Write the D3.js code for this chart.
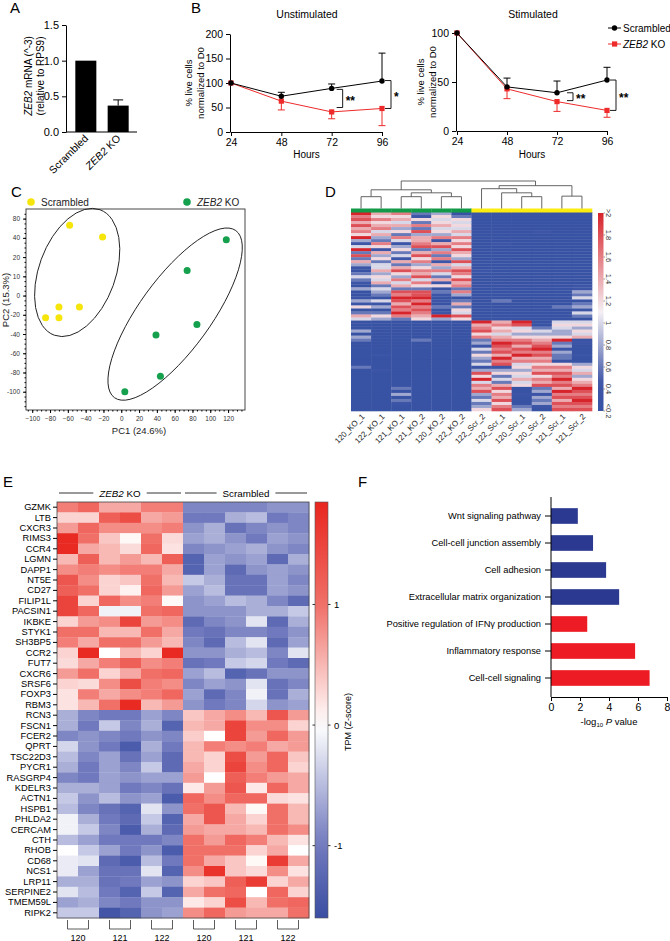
<!DOCTYPE html>
<html>
<head>
<meta charset="utf-8">
<script src="https://cdn.jsdelivr.net/npm/d3@7"></script>
<style>
  body { margin: 0; background: #fff; }
  svg { display: block; font-family: "Liberation Sans", Arial, sans-serif; }
</style>
</head>
<body>
<svg id="fig" width="670" height="941"></svg>
<script>
// ---------- data ----------

// A: ZEB2 mRNA
const qpcrGroups = ['Scrambled', 'ZEB2 KO']
const qpcrMean = [1.0, 0.37]
const qpcrErr = [0, 0.08]
const qpcrTicks = [0, 0.5, 1.0, 1.5]

// B: live cells over time
const hours = [24, 48, 72, 96]
const unstimScr = [100, 73, 89, 104]
const unstimScrErr = [0, 8, 9, 57]
const unstimKo = [100, 63, 41, 48]
const unstimKoErr = [0, 18, 14, 35]
const stimScr = [100, 45, 39, 52]
const stimScrErr = [0, 9, 12, 13]
const stimKo = [100, 43, 30, 21]
const stimKoErr = [0, 10, 10, 7]
// [hour, top value, bottom value, label]
const unstimSig = [[72, 87, 50, '**'], [96, 105, 48, '*']]
const stimSig = [[72, 39, 31, '**'], [96, 52, 21, '**']]

// C: PCA
const pcScrX = [-58, -21, -70, -47, -85, -70]
const pcScrY = [73, 61, -12, -12, -23, -23]
const pcKoX = [118, 74, 85, 39, 44, 4]
const pcKoY = [58, 26, -30, -41, -84, -100]
const pcXTicks = [-100, -80, -60, -40, -20, 0, 20, 40, 60, 80, 100, 120]
const pcYTicks = [80, 60, 40, 20, 0, -20, -40, -60, -80, -100]
const pcYTickLabels = ['80', '40', '20', '10', '0', '-20', '-40', '-60', '-80', '-100']
// group ellipses: centre, semi axes (PC1 units), tilt in degrees
const pcEllipseCx = [-49.5, 60.5]
const pcEllipseCy = [24, -19.3]
const pcEllipseMajor = [75, 116]
const pcEllipseMinor = [43, 40]
const pcEllipseAngle = [70, 54]

// D: clustered heatmap, one string per sample, digit d -> 0.2 + 0.2*d
const dSamples = ['120_KO_1', '122_KO_1', '121_KO_1', '121_KO_2', '120_KO_2', '122_KO_2',
  '122_Scr_2', '122_Scr_1', '120_Scr_1', '120_Scr_2', '121_Scr_1', '121_Scr_2']
const dGroups = ['KO', 'KO', 'KO', 'KO', 'KO', 'KO', 'Scr', 'Scr', 'Scr', 'Scr', 'Scr', 'Scr']
const dLevels = [
  '978686759314928263102421030013150264' + '000303200000000200000000000000',
  '657567463275163524463546243204130253' + '000000000001000010000000000000',
  '756463527413524162685374628798687972' + '000000000000000000000020302100',
  '215272836678268573576847528897978765' + '000000200000000000000000000000',
  '354564537168372716374261502101020193' + '000000000000000000000000000000',
  '025454647575865384687586727302625485' + '000000000000000000000000000000',
  '000000000000000000010000000000000000' + '967857231425324138594768324235',
  '000000000010000000000000000002000000' + '675646798786978135242685768578',
  '000000000000000000000000000000000000' + '984535786879674535464500100023',
  '000000100000000000000000000000000000' + '002435678978675768576823132310',
  '000000000000000000000000000000020000' + '454335923132205768797869786878',
  '000000000000000000000000113240231420' + '453546010001003546356798789878'
]
const dTicks = [0.2, 0.4, 0.6, 0.8, 1, 1.2, 1.4, 1.6, 1.8, 2]
const dTickLabels = ['<0.2', '0.4', '0.6', '0.8', '1', '1.2', '1.4', '1.6', '1.8', '>2']
// dendrogram merges [child a, child b, height]; leaves are 0-11
const dMerges = [[0, 1, 0.43], [2, 3, 0.43], [4, 5, 0.43], [13, 14, 0.57], [12, 15, 0.68],
  [8, 9, 0.43], [7, 17, 0.57], [6, 18, 0.72], [10, 11, 0.45], [19, 20, 0.83], [16, 21, 1]]

// E: TPM z-scores, 6 ZEB2 KO columns then 6 Scrambled columns
const eGenes = ['GZMK', 'LTB', 'CXCR3', 'RIMS3', 'CCR4', 'LGMN', 'DAPP1', 'NT5E', 'CD27', 'FILIP1L',
  'PACSIN1', 'IKBKE', 'STYK1', 'SH3BP5', 'CCR2', 'FUT7', 'CXCR6', 'SRSF6', 'FOXP3', 'RBM3',
  'RCN3', 'FSCN1', 'FCER2', 'QPRT', 'TSC22D3', 'PYCR1', 'RASGRP4', 'KDELR3', 'ACTN1', 'HSPB1',
  'PHLDA2', 'CERCAM', 'CTH', 'RHOB', 'CD68', 'NCS1', 'LRP11', 'SERPINE2', 'TMEM59L', 'RIPK2']
const eZ = [
  [0.9, 1.1, 0.6, 0.6, 0.9, 0.9, -0.9, -0.9, -0.9, -0.9, -0.8, -0.8],
  [0.3, 0.3, 1.2, 1.4, 0.6, 0.7, -1.0, -1.0, -0.6, -0.5, -1.0, -0.9],
  [0.7, 1.1, 0.8, 0.8, 0.8, 0.9, -0.8, -0.6, -1.1, -0.9, -0.8, -0.9],
  [1.8, 1.0, 0.4, 0.05, 1.0, 0.25, -0.7, -0.6, -0.8, -1.0, -0.7, -0.8],
  [1.8, 0.6, 0.5, 0.25, 1.1, 0.2, -0.9, -0.8, -0.7, -0.6, -0.8, -0.9],
  [0.5, 1.2, 0.5, 0.7, 0.5, 1.2, -1.3, -0.7, -0.8, -0.7, -1.2, -0.6],
  [0.8, 0.9, 0.8, 0.9, 0.9, 0.6, -1.3, -0.7, -1.2, -0.8, -0.7, -0.8],
  [1.3, 0.8, 0.3, 0.4, 1.0, 0.5, -0.4, -0.6, -1.1, -1.1, -0.7, -0.9],
  [1.2, 1.0, 0.3, 0.1, 1.1, 0.7, -0.7, -0.5, -1.1, -1.1, -0.7, -0.8],
  [1.5, 0.3, 1.1, 0.8, 0.9, 0.05, -0.8, -0.7, -0.5, -0.6, -0.9, -1.2],
  [1.5, 1.1, -0.1, -0.1, 1.0, 1.1, -0.8, -0.8, -0.8, -0.6, -0.6, -0.4],
  [0.3, 0.7, 0.8, 1.5, 0.7, 0.8, -1.2, -0.9, -0.8, -0.2, -1.2, -0.6],
  [1.0, 1.0, 0.5, 0.5, 1.0, 0.6, -1.0, -1.1, -0.9, -0.9, -1.0, -0.8],
  [0.9, 0.6, 1.0, 1.0, 0.7, 0.5, -0.9, -1.2, -0.5, -0.2, -1.2, -0.7],
  [0.3, 1.8, 0.0, 0.5, 0.3, 1.8, -0.8, -0.8, -0.6, -0.5, -0.9, -0.2],
  [0.25, 0.6, 0.9, 1.2, 0.8, 0.9, -1.1, -1.0, -0.4, -0.3, -1.0, -1.2],
  [0.7, 1.0, 0.3, 0.6, 1.0, 1.1, -0.7, -0.5, -1.3, -1.1, -0.8, -0.8],
  [0.3, 0.25, 0.8, 1.4, 0.9, 0.8, -0.9, -0.7, -0.8, -0.2, -1.1, -0.9],
  [0.2, 0.9, 0.6, 0.8, 0.9, 1.1, -0.7, -1.2, -0.9, -0.1, -1.1, -0.6],
  [0.2, 0.5, 1.0, 1.8, 0.5, 0.7, -0.8, -1.0, -0.9, -0.3, -0.8, -0.7],
  [-0.6, -0.9, -1.0, -1.0, -0.7, -0.9, 0.4, 0.6, 0.8, 0.5, 1.3, 0.7],
  [-0.6, -1.0, -0.4, -0.9, -0.6, -1.3, 0.5, 0.6, 1.5, 0.8, 0.8, 0.3],
  [-0.9, -0.8, -0.9, -1.0, -0.8, -0.9, 0.35, 0.0, 1.5, 0.7, 1.1, 0.7],
  [-0.3, -0.8, -1.0, -1.4, -0.6, -1.0, 0.5, 0.9, 0.8, 0.9, 0.6, 0.7],
  [-0.5, -0.9, -0.7, -1.1, -0.7, -1.2, 0.5, 0.3, 1.4, 0.7, 1.1, 0.4],
  [-0.6, -1.0, -0.7, -0.9, -0.4, -1.2, 0.6, 0.3, 1.5, 0.8, 1.1, 0.3],
  [-0.9, -1.0, -0.7, -0.8, -0.7, -0.7, 0.7, 0.0, 1.2, 0.9, 0.7, 0.6],
  [-0.6, -0.6, -0.7, -1.0, -0.9, -1.1, 0.15, 0.7, 1.3, 0.15, 1.1, 0.6],
  [-0.4, -0.8, -0.5, -0.8, -0.7, -1.4, 1.1, 0.8, 1.1, 1.1, 0.25, 0.2],
  [-0.5, -0.9, -1.1, -1.3, -0.2, -0.8, 1.0, 1.3, 0.5, 0.05, 1.0, 0.5],
  [-0.1, -0.6, -1.0, -1.2, -0.4, -1.3, 0.6, 1.3, 0.6, 0.3, 1.0, 0.5],
  [-0.1, -0.4, -0.9, -1.4, -0.6, -1.2, 0.7, 0.6, 0.6, 0.5, 1.0, 0.8],
  [-0.5, -0.7, -1.0, -1.0, -1.0, -0.9, 1.0, 0.7, 1.1, 0.9, 0.5, 0.2],
  [0.0, -0.4, -0.7, -1.0, -0.8, -1.4, 1.0, 1.0, 1.0, 0.3, 0.6, 0.0],
  [-0.15, -0.2, -1.2, -1.4, -0.5, -1.0, 1.0, 0.6, 0.4, 0.05, 1.6, 0.6],
  [-0.15, -0.7, -1.1, -1.1, -0.2, -1.3, 0.8, 1.7, 0.4, 0.25, 0.8, 0.2],
  [-0.6, -0.6, -1.1, -1.0, -0.7, -0.8, 0.3, 0.4, 1.2, 1.6, 0.3, 0.6],
  [-0.2, -0.5, -1.0, -1.3, -0.4, -1.3, 0.6, 1.0, 1.1, 0.0, 1.1, 0.3],
  [-0.7, -0.6, -0.9, -1.0, -0.8, -0.8, 0.15, 0.3, 1.4, 0.5, 1.0, 1.1],
  [-0.4, -0.4, -1.5, -1.3, -0.8, -0.7, 0.8, 1.1, 0.7, 0.6, 0.6, 1.0]
]
const eDonors = ['120', '121', '122', '120', '121', '122']
const eTicks = [1, 0, -1]

// F: GO terms
const goTerms = ['Wnt signaling pathway', 'Cell-cell junction assembly', 'Cell adhesion',
  'Extracellular matrix organization', 'Positive regulation of IFN\u03b3 production',
  'Inflammatory response', 'Cell-cell signaling']
const goScore = [1.85, 2.9, 3.8, 4.7, 2.5, 5.8, 6.8]
const goDirection = ['down', 'down', 'down', 'down', 'up', 'up', 'up']
const goTicks = [0, 2, 4, 6, 8]

// ---------- helpers ----------
const svg = d3.select('#fig')
const FONT = '"Liberation Sans", Arial, sans-serif'
const RED = '#ee2a2a'

function tidyAxis(g, size) {
  g.attr('font-family', FONT).attr('font-size', size)
  g.selectAll('.domain, .tick line').attr('stroke', '#000')
  g.selectAll('.tick text').attr('fill', '#000')
}

// gene symbol in italics
function geneText(sel, text) {
  const m = text.match(/^(ZEB2)(.*)$/)
  if (m) {
    sel.append('tspan').attr('font-style', 'italic').text(m[1])
    sel.append('tspan').text(m[2])
  } else sel.text(text)
  return sel
}

// panel letters
const letters = [['A', 10, 13], ['B', 191, 13], ['C', 11, 197], ['D', 325, 197], ['E', 3, 487], ['F', 358, 487]]
svg.selectAll('text.letter').data(letters).join('text')
  .attr('class', 'letter')
  .attr('x', d => d[1]).attr('y', d => d[2])
  .attr('font-size', 15).text(d => d[0])

// ---------- A ----------
{
  const g = svg.append('g')
  const y = d3.scaleLinear().domain([0, 1.5]).range([132, 25])
  const x = d3.scaleBand().domain(qpcrGroups).range([69.5, 134.5]).paddingInner(0.35).paddingOuter(0.18)

  g.append('g').attr('transform', 'translate(66,0)')
    .call(d3.axisLeft(y).tickValues(qpcrTicks).tickFormat(d3.format('.1f')).tickSize(4).tickSizeOuter(0))
    .call(tidyAxis, 11)
  g.append('line').attr('x1', 66).attr('x2', 137).attr('y1', y(0)).attr('y2', y(0)).attr('stroke', '#000')

  g.selectAll('rect').data(qpcrGroups).join('rect')
    .attr('x', d => x(d)).attr('width', x.bandwidth())
    .attr('y', (d, i) => y(qpcrMean[i]))
    .attr('height', (d, i) => y(0) - y(qpcrMean[i]))
    .attr('fill', '#000')

  qpcrGroups.forEach((d, i) => {
    if (!qpcrErr[i]) return
    const cx = x(d) + x.bandwidth() / 2
    const top = y(qpcrMean[i] + qpcrErr[i])
    g.append('line').attr('x1', cx).attr('x2', cx).attr('y1', y(qpcrMean[i])).attr('y2', top).attr('stroke', '#000')
    g.append('line').attr('x1', cx - 5).attr('x2', cx + 5).attr('y1', top).attr('y2', top).attr('stroke', '#000')
  })

  qpcrGroups.forEach(d => {
    const t = g.append('text')
      .attr('transform', `translate(${x(d) + x.bandwidth() / 2 + 3},139) rotate(-45)`)
      .attr('text-anchor', 'end').attr('font-size', 10.5)
    geneText(t, d)
  })

  const lab1 = g.append('text').attr('transform', 'translate(32,76) rotate(-90)')
    .attr('text-anchor', 'middle').attr('font-size', 10)
  lab1.append('tspan').attr('font-style', 'italic').text('ZEB2')
  lab1.append('tspan').text(' mRNA (^-3)')
  g.append('text').attr('transform', 'translate(43.5,76) rotate(-90)')
    .attr('text-anchor', 'middle').attr('font-size', 10).text('(relative to RPS9)')
}

// ---------- B ----------
function survival(cfg) {
  const g = svg.append('g')
  const x = d3.scaleLinear().domain([24, 96]).range([cfg.left, cfg.right])
  const y = d3.scaleLinear().domain([0, cfg.yMax]).range([cfg.bottom, cfg.top])

  g.append('g').attr('transform', `translate(${cfg.left - 1},0)`)
    .call(d3.axisLeft(y).tickValues(cfg.yTicks).tickSize(4).tickSizeOuter(0))
    .call(tidyAxis, 10.5)
  g.append('g').attr('transform', `translate(0,${cfg.bottom})`)
    .call(d3.axisBottom(x).tickValues(hours).tickSize(4).tickSizeOuter(0))
    .call(tidyAxis, 10.5)

  g.append('text').attr('x', (cfg.left + cfg.right) / 2).attr('y', 158)
    .attr('text-anchor', 'middle').attr('font-size', 10).text('Hours')
  g.append('text').attr('x', cfg.titleX).attr('y', 18)
    .attr('text-anchor', 'middle').attr('font-size', 10.5).text(cfg.title)
  const mid = (cfg.top + cfg.bottom) / 2
  g.append('text').attr('transform', `translate(${cfg.labelX},${mid}) rotate(-90)`)
    .attr('text-anchor', 'middle').attr('font-size', 9.5).text('% live cells')
  g.append('text').attr('transform', `translate(${cfg.labelX + 12},${mid}) rotate(-90)`)
    .attr('text-anchor', 'middle').attr('font-size', 9.5).text('normalized to D0')

  const series = (vals, errs, color, dir, square) => {
    const pts = vals.map((v, i) => ({ h: hours[i], v, e: errs[i] }))
    g.append('path').datum(pts)
      .attr('d', d3.line().x(d => x(d.h)).y(d => y(d.v)))
      .attr('fill', 'none').attr('stroke', color).attr('stroke-width', 1)
    pts.filter(d => d.e > 0).forEach(d => {
      const end = y(d.v + dir * d.e)
      g.append('line').attr('x1', x(d.h)).attr('x2', x(d.h)).attr('y1', y(d.v)).attr('y2', end).attr('stroke', color)
      g.append('line').attr('x1', x(d.h) - 3.5).attr('x2', x(d.h) + 3.5).attr('y1', end).attr('y2', end).attr('stroke', color)
    })
    if (square) {
      g.selectAll(null).data(pts).join('rect')
        .attr('x', d => x(d.h) - 2.6).attr('y', d => y(d.v) - 2.6)
        .attr('width', 5.2).attr('height', 5.2).attr('fill', color)
    } else {
      g.selectAll(null).data(pts).join('circle')
        .attr('cx', d => x(d.h)).attr('cy', d => y(d.v)).attr('r', 2.7).attr('fill', color)
    }
  }
  series(cfg.ko, cfg.koErr, RED, -1, true)
  series(cfg.scr, cfg.scrErr, '#000', 1, false)

  cfg.sig.forEach(([h, top, bottom, label], i) => {
    const x0 = x(h) + cfg.sigGap[i]
    g.append('path')
      .attr('d', `M${x0},${y(top)}H${x0 + 6}V${y(bottom)}H${x0}`)
      .attr('fill', 'none').attr('stroke', '#000').attr('stroke-width', 0.9)
    g.append('text').attr('x', x0 + 9).attr('y', (y(top) + y(bottom)) / 2 + 6.5)
      .attr('font-size', 12).attr('font-weight', 'bold').text(label)
  })
  return g
}

survival({
  left: 231, right: 382, top: 34, bottom: 132, yMax: 200, yTicks: [0, 50, 100, 150, 200],
  title: 'Unstimulated', titleX: 307, labelX: 192, sigGap: [5, 3],
  scr: unstimScr, scrErr: unstimScrErr, ko: unstimKo, koErr: unstimKoErr, sig: unstimSig
})
const stimG = survival({
  left: 457, right: 607, top: 33, bottom: 131, yMax: 100, yTicks: [0, 50, 100],
  title: 'Stimulated', titleX: 533, labelX: 424, sigGap: [10, 3],
  scr: stimScr, scrErr: stimScrErr, ko: stimKo, koErr: stimKoErr, sig: stimSig
})

// legend
{
  const items = [['Scrambled', '#000', false], ['ZEB2 KO', RED, true]]
  items.forEach(([name, color, square], i) => {
    const ly = 28 + i * 16
    stimG.append('line').attr('x1', 608).attr('x2', 621).attr('y1', ly).attr('y2', ly).attr('stroke', color)
    if (square) stimG.append('rect').attr('x', 612).attr('y', ly - 2.6).attr('width', 5.2).attr('height', 5.2).attr('fill', color)
    else stimG.append('circle').attr('cx', 614.5).attr('cy', ly).attr('r', 2.7).attr('fill', color)
    geneText(stimG.append('text').attr('x', 623).attr('y', ly + 3.5).attr('font-size', 10), name)
  })
}

// ---------- C ----------
{
  const g = svg.append('g')
  const x = d3.scaleLinear().domain([-107, 139]).range([26, 245])
  const y = d3.scaleLinear().domain([-119, 90]).range([410, 209])
  const k = x(1) - x(0)

  g.append('rect').attr('x', 26).attr('y', 209).attr('width', 219).attr('height', 201)
    .attr('fill', 'none').attr('stroke', '#333').attr('stroke-width', 0.9)

  g.append('g').attr('transform', 'translate(26,0)')
    .call(d3.axisLeft(y).tickValues(d3.range(-115, 90, 5)).tickSize(1.5).tickFormat(''))
    .call(g => g.select('.domain').remove())
    .call(tidyAxis, 6.5)
  g.append('g').attr('transform', 'translate(26,0)')
    .call(d3.axisLeft(y).tickValues(pcYTicks).tickSize(3).tickFormat((d, i) => pcYTickLabels[i]))
    .call(g => g.select('.domain').remove())
    .call(tidyAxis, 6.5)
  g.append('g').attr('transform', 'translate(0,410)')
    .call(d3.axisBottom(x).tickValues(d3.range(-105, 140, 5)).tickSize(1.5).tickFormat(''))
    .call(g => g.select('.domain').remove())
    .call(tidyAxis, 6.5)
  g.append('g').attr('transform', 'translate(0,410)')
    .call(d3.axisBottom(x).tickValues(pcXTicks).tickSize(3))
    .call(g => g.select('.domain').remove())
    .call(tidyAxis, 6.5)
  g.selectAll('.tick text').attr('fill', '#333')

  pcEllipseCx.forEach((c, i) => {
    g.append('ellipse')
      .attr('cx', x(c)).attr('cy', y(pcEllipseCy[i]))
      .attr('rx', pcEllipseMajor[i] * k).attr('ry', pcEllipseMinor[i] * k)
      .attr('transform', `rotate(${-pcEllipseAngle[i]},${x(c)},${y(pcEllipseCy[i])})`)
      .attr('fill', 'none').attr('stroke', '#222').attr('stroke-width', 0.9)
  })

  const yellow = '#f5e50a', green = '#14a04c'
  g.selectAll(null).data(pcScrX).join('circle')
    .attr('cx', d => x(d)).attr('cy', (d, i) => y(pcScrY[i])).attr('r', 3.5).attr('fill', yellow)
  g.selectAll(null).data(pcKoX).join('circle')
    .attr('cx', d => x(d)).attr('cy', (d, i) => y(pcKoY[i])).attr('r', 3.5).attr('fill', green)

  g.append('circle').attr('cx', 31).attr('cy', 202).attr('r', 3.8).attr('fill', yellow)
  g.append('text').attr('x', 41).attr('y', 206).attr('font-size', 10).attr('fill', '#222').text('Scrambled')
  g.append('circle').attr('cx', 187).attr('cy', 202).attr('r', 3.8).attr('fill', green)
  geneText(g.append('text').attr('x', 197).attr('y', 206).attr('font-size', 10).attr('fill', '#222'), 'ZEB2 KO')

  g.append('text').attr('x', 139).attr('y', 434).attr('text-anchor', 'middle')
    .attr('font-size', 9.5).attr('fill', '#222').text('PC1 (24.6%)')
  g.append('text').attr('transform', 'translate(9,300) rotate(-90)').attr('text-anchor', 'middle')
    .attr('font-size', 9.5).attr('fill', '#222').text('PC2 (15.3%)')
}

// ---------- D ----------
{
  const g = svg.append('g')
  const nRows = 66
  const x = d3.scaleBand().domain(d3.range(dSamples.length)).range([351, 592])
  const y = d3.scaleBand().domain(d3.range(nRows)).range([212, 411])
  const color = d3.scaleLinear().domain([0.2, 0.45, 1.1, 2])
    .range(['#3953a4', '#3d55a6', '#f4eff4', '#d7232a']).clamp(true)

  const cells = []
  dLevels.forEach((s, c) => {
    for (let r = 0; r < nRows; r++) cells.push({ c, r, v: 0.2 + 0.2 * (+s[r] || 0) })
  })
  g.selectAll(null).data(cells).join('rect')
    .attr('x', d => x(d.c)).attr('y', d => y(d.r))
    .attr('width', x.bandwidth() + 0.3).attr('height', y.bandwidth() + 0.3)
    .attr('fill', d => color(d.v))

  // group strip
  g.selectAll(null).data(dGroups).join('rect')
    .attr('x', (d, i) => x(i)).attr('y', 208.5).attr('width', x.bandwidth() + 0.3).attr('height', 4)
    .attr('fill', d => d === 'KO' ? '#139a48' : '#fbec10')

  // dendrogram
  const hy = d3.scaleLinear().domain([0, 1]).range([208.5, 181])
  const nodes = dSamples.map((d, i) => ({ x: x(i) + x.bandwidth() / 2, h: 0 }))
  dMerges.forEach(([a, b, h]) => nodes.push({ x: (nodes[a].x + nodes[b].x) / 2, h, a, b }))
  nodes.filter(n => n.a !== undefined).forEach(n => {
    const A = nodes[n.a], B = nodes[n.b]
    g.append('path')
      .attr('d', `M${A.x},${hy(A.h)}V${hy(n.h)}H${B.x}V${hy(B.h)}`)
      .attr('fill', 'none').attr('stroke', '#555').attr('stroke-width', 0.9)
  })

  // sample labels
  g.selectAll(null).data(dSamples).join('text')
    .attr('transform', (d, i) => `translate(${x(i) + x.bandwidth() / 2 + 4},417) rotate(-45)`)
    .attr('text-anchor', 'end').attr('font-size', 8).attr('fill', '#222').text(d => d)

  // colour bar
  const cb = d3.scaleLinear().domain([0.2, 2]).range([411, 213])
  const grad = svg.append('defs').append('linearGradient').attr('id', 'dgrad')
    .attr('x1', 0).attr('x2', 0).attr('y1', 1).attr('y2', 0)
  d3.range(0, 1.0001, 0.05).forEach(t => {
    grad.append('stop').attr('offset', t).attr('stop-color', color(0.2 + 1.8 * t))
  })
  g.append('rect').attr('x', 598).attr('y', 213).attr('width', 5.5).attr('height', 198).attr('fill', 'url(#dgrad)')
  dTicks.forEach((t, i) => {
    g.append('line').attr('x1', 603.5).attr('x2', 605).attr('y1', cb(t)).attr('y2', cb(t)).attr('stroke', '#555').attr('stroke-width', 0.6)
    g.append('text').attr('transform', `translate(605.5,${cb(t)}) rotate(90)`)
      .attr('text-anchor', 'middle').attr('font-size', 7.5).attr('fill', '#333').text(dTickLabels[i])
  })
}

// ---------- E ----------
{
  const g = svg.append('g')
  const x = d3.scaleBand().domain(d3.range(12)).range([57, 309])
  const y = d3.scaleBand().domain(eGenes).range([502, 918])
  const color = d3.scaleLinear().domain([-1.6, -1, 0, 1, 1.85])
    .range(['#3a4ea3', '#7079bd', '#ffffff', '#f07068', '#e8261e']).clamp(true)

  const cells = []
  eZ.forEach((row, r) => row.forEach((v, c) => cells.push({ gene: eGenes[r], c, v })))
  g.selectAll(null).data(cells).join('rect')
    .attr('x', d => x(d.c)).attr('y', d => y(d.gene))
    .attr('width', x.bandwidth() + 0.3).attr('height', y.bandwidth() + 0.3)
    .attr('fill', d => color(d.v))
  g.append('rect').attr('x', 57).attr('y', 502).attr('width', 252).attr('height', 416)
    .attr('fill', 'none').attr('stroke', '#444').attr('stroke-width', 0.8)

  g.append('g').attr('transform', 'translate(57,0)')
    .call(d3.axisLeft(y).tickSize(4).tickPadding(2))
    .call(g => g.select('.domain').remove())
    .call(tidyAxis, 9.3)

  // column group header
  const header = [['ZEB2 KO', 0, 5], ['Scrambled', 6, 11]]
  header.forEach(([name, a, b]) => {
    const x0 = x(a) + 2, x1 = x(b) + x.bandwidth() - 2, cx = (x0 + x1) / 2
    const t = geneText(g.append('text').attr('x', cx).attr('y', 496.5).attr('text-anchor', 'middle').attr('font-size', 9.8), name)
    const half = t.node().getComputedTextLength() / 2 + 6
    g.append('line').attr('x1', x0).attr('x2', cx - half).attr('y1', 493).attr('y2', 493).attr('stroke', '#000').attr('stroke-width', 0.8)
    g.append('line').attr('x1', cx + half).attr('x2', x1).attr('y1', 493).attr('y2', 493).attr('stroke', '#000').attr('stroke-width', 0.8)
  })

  // donor brackets
  eDonors.forEach((d, i) => {
    const xa = x(2 * i) + x.bandwidth() / 2, xb = x(2 * i + 1) + x.bandwidth() / 2
    g.append('path').attr('d', `M${xa},920V929H${xb}V920`)
      .attr('fill', 'none').attr('stroke', '#333').attr('stroke-width', 0.8)
    g.append('text').attr('x', (xa + xb) / 2).attr('y', 940.5).attr('text-anchor', 'middle')
      .attr('font-size', 9).text(d)
  })

  // colour bar
  const cb = d3.scaleLinear().domain([-1.6, 1.85]).range([918, 502])
  const grad = svg.append('defs').append('linearGradient').attr('id', 'egrad')
    .attr('x1', 0).attr('x2', 0).attr('y1', 1).attr('y2', 0)
  d3.range(0, 1.0001, 0.05).forEach(t => {
    grad.append('stop').attr('offset', t).attr('stop-color', color(-1.6 + 3.45 * t))
  })
  g.append('rect').attr('x', 315).attr('y', 502).attr('width', 13).attr('height', 416)
    .attr('fill', 'url(#egrad)').attr('stroke', '#555').attr('stroke-width', 0.6)
  eTicks.forEach(t => {
    g.append('line').attr('x1', 312.5).attr('x2', 315).attr('y1', cb(t)).attr('y2', cb(t)).attr('stroke', '#333')
    g.append('line').attr('x1', 328).attr('x2', 330.5).attr('y1', cb(t)).attr('y2', cb(t)).attr('stroke', '#333')
    g.append('text').attr('x', 334).attr('y', cb(t) + 3.5).attr('font-size', 9.5).text(t)
  })
  g.append('text').attr('transform', 'translate(351,722) rotate(-90)').attr('text-anchor', 'middle')
    .attr('font-size', 9).text('TPM (Z-score)')
}

// ---------- F ----------
{
  const g = svg.append('g')
  const x = d3.scaleLinear().domain([0, 8]).range([551, 667])
  const y = d3.scaleBand().domain(goTerms).range([502.5, 691.5]).paddingInner(0.42).paddingOuter(0.21)

  g.selectAll(null).data(goTerms).join('rect')
    .attr('x', x(0)).attr('y', d => y(d))
    .attr('width', (d, i) => x(goScore[i]) - x(0)).attr('height', y.bandwidth())
    .attr('fill', (d, i) => goDirection[i] === 'down' ? '#2b3990' : '#ed1c24')

  g.append('g').attr('transform', `translate(${x(0)},0)`)
    .call(d3.axisLeft(y).tickSize(6).tickPadding(4).tickSizeOuter(0))
    .call(g => g.select('.domain').attr('d', 'M0,497V697'))
    .call(tidyAxis, 9.3)
  g.append('g').attr('transform', 'translate(0,697)')
    .call(d3.axisBottom(x).tickValues(goTicks).tickSize(4).tickSizeOuter(0))
    .call(tidyAxis, 10.5)

  const t = g.append('text').attr('x', 609).attr('y', 725).attr('text-anchor', 'middle').attr('font-size', 9.5)
  t.append('tspan').text('-log')
  t.append('tspan').attr('font-size', 6).attr('dy', 2).text('10')
  t.append('tspan').attr('dy', -2).text(' ')
  t.append('tspan').attr('font-style', 'italic').text('P')
  t.append('tspan').text(' value')
}
</script>
</body>
</html>
